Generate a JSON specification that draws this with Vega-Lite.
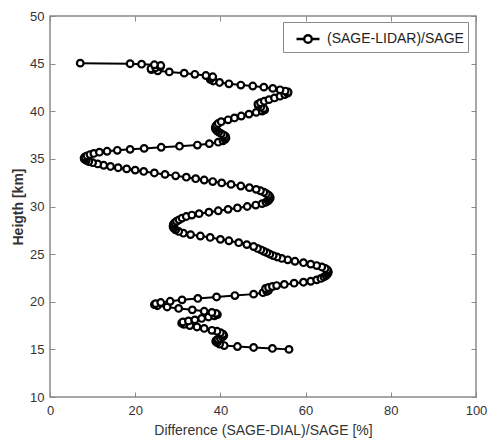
{
  "$schema": "https://vega.github.io/schema/vega-lite/v6.json",
  "width": 426,
  "height": 381,
  "autosize": "none",
  "padding": {"left": 50, "top": 16, "right": 16, "bottom": 42},
  "config": {
    "font": "Liberation Sans",
    "view": {"stroke": "#8a8a8a", "strokeWidth": 1.5},
    "axis": {
      "domain": false,
      "grid": false,
      "tickColor": "#8a8a8a",
      "tickWidth": 1,
      "tickSize": -5,
      "labelFont": "Liberation Sans",
      "labelFontSize": 13,
      "labelColor": "#333333",
      "titleFont": "Liberation Sans",
      "titleFontSize": 14,
      "titleFontWeight": "normal",
      "titleColor": "#333333"
    }
  },
  "data": {
    "values": [
      {"d": 56.1, "h": 15.0}, {"d": 52.2, "h": 15.1}, {"d": 47.8, "h": 15.2}, {"d": 44.0, "h": 15.3},
      {"d": 40.9, "h": 15.4}, {"d": 39.8, "h": 15.55}, {"d": 39.2, "h": 15.7}, {"d": 38.9, "h": 15.85},
      {"d": 39.0, "h": 15.95}, {"d": 39.4, "h": 16.05}, {"d": 40.0, "h": 16.15}, {"d": 40.5, "h": 16.3},
      {"d": 40.8, "h": 16.45}, {"d": 40.6, "h": 16.6}, {"d": 40.0, "h": 16.75}, {"d": 39.2, "h": 16.9},
      {"d": 38.0, "h": 17.0}, {"d": 36.2, "h": 17.2}, {"d": 34.5, "h": 17.35}, {"d": 32.8, "h": 17.5},
      {"d": 31.4, "h": 17.62}, {"d": 30.9, "h": 17.75}, {"d": 31.2, "h": 17.88}, {"d": 32.5, "h": 17.98},
      {"d": 34.0, "h": 18.1}, {"d": 35.6, "h": 18.25}, {"d": 37.2, "h": 18.4}, {"d": 38.6, "h": 18.52},
      {"d": 39.3, "h": 18.65}, {"d": 39.0, "h": 18.78}, {"d": 38.0, "h": 18.88}, {"d": 36.2, "h": 19.0},
      {"d": 33.4, "h": 19.15}, {"d": 30.2, "h": 19.3}, {"d": 27.5, "h": 19.45}, {"d": 25.2, "h": 19.58},
      {"d": 24.5, "h": 19.7}, {"d": 24.8, "h": 19.8}, {"d": 26.0, "h": 19.92}, {"d": 28.2, "h": 20.05},
      {"d": 31.0, "h": 20.2}, {"d": 34.7, "h": 20.35}, {"d": 39.1, "h": 20.5}, {"d": 43.4, "h": 20.65},
      {"d": 47.8, "h": 20.8}, {"d": 50.0, "h": 20.95}, {"d": 50.9, "h": 21.08}, {"d": 51.3, "h": 21.2},
      {"d": 50.8, "h": 21.3}, {"d": 50.6, "h": 21.4}, {"d": 51.3, "h": 21.5}, {"d": 52.2, "h": 21.6},
      {"d": 53.2, "h": 21.7}, {"d": 55.0, "h": 21.82}, {"d": 57.3, "h": 21.95}, {"d": 59.5, "h": 22.05},
      {"d": 61.2, "h": 22.15}, {"d": 62.6, "h": 22.3}, {"d": 63.6, "h": 22.45}, {"d": 64.3, "h": 22.6},
      {"d": 64.8, "h": 22.75}, {"d": 65.1, "h": 22.9}, {"d": 65.3, "h": 23.05}, {"d": 65.3, "h": 23.2},
      {"d": 65.1, "h": 23.35}, {"d": 64.6, "h": 23.5}, {"d": 63.8, "h": 23.65}, {"d": 62.6, "h": 23.8},
      {"d": 61.2, "h": 23.95}, {"d": 59.5, "h": 24.1}, {"d": 57.5, "h": 24.25}, {"d": 55.8, "h": 24.4},
      {"d": 54.4, "h": 24.55}, {"d": 53.3, "h": 24.7}, {"d": 52.4, "h": 24.85}, {"d": 51.6, "h": 25.0},
      {"d": 50.9, "h": 25.15}, {"d": 50.2, "h": 25.3}, {"d": 49.5, "h": 25.45}, {"d": 48.7, "h": 25.6},
      {"d": 47.8, "h": 25.8}, {"d": 46.2, "h": 26.0}, {"d": 44.3, "h": 26.2}, {"d": 42.0, "h": 26.4},
      {"d": 40.0, "h": 26.55}, {"d": 37.6, "h": 26.75}, {"d": 35.3, "h": 26.9}, {"d": 33.0, "h": 27.05},
      {"d": 31.3, "h": 27.2}, {"d": 30.2, "h": 27.38}, {"d": 29.5, "h": 27.55}, {"d": 29.1, "h": 27.7},
      {"d": 28.9, "h": 27.85}, {"d": 28.9, "h": 28.0}, {"d": 29.0, "h": 28.15}, {"d": 29.3, "h": 28.3},
      {"d": 29.7, "h": 28.45}, {"d": 30.3, "h": 28.6}, {"d": 31.0, "h": 28.78}, {"d": 32.0, "h": 28.95},
      {"d": 33.3, "h": 29.1}, {"d": 35.0, "h": 29.25}, {"d": 37.3, "h": 29.4}, {"d": 39.5, "h": 29.55},
      {"d": 41.8, "h": 29.7}, {"d": 44.0, "h": 29.85}, {"d": 46.3, "h": 30.0}, {"d": 48.3, "h": 30.15},
      {"d": 49.8, "h": 30.3}, {"d": 50.7, "h": 30.45}, {"d": 51.2, "h": 30.6}, {"d": 51.5, "h": 30.75},
      {"d": 51.7, "h": 30.9}, {"d": 51.6, "h": 31.05}, {"d": 51.3, "h": 31.2}, {"d": 50.8, "h": 31.35},
      {"d": 50.2, "h": 31.5}, {"d": 49.4, "h": 31.65}, {"d": 48.4, "h": 31.8}, {"d": 46.8, "h": 31.98},
      {"d": 44.8, "h": 32.15}, {"d": 42.5, "h": 32.32}, {"d": 40.3, "h": 32.48}, {"d": 38.2, "h": 32.62},
      {"d": 36.2, "h": 32.78}, {"d": 34.2, "h": 32.92}, {"d": 32.0, "h": 33.08}, {"d": 29.5, "h": 33.22},
      {"d": 27.0, "h": 33.37}, {"d": 24.5, "h": 33.52}, {"d": 22.0, "h": 33.68}, {"d": 20.0, "h": 33.82},
      {"d": 18.0, "h": 33.95}, {"d": 16.0, "h": 34.07}, {"d": 14.2, "h": 34.2}, {"d": 12.6, "h": 34.33},
      {"d": 11.2, "h": 34.47}, {"d": 10.0, "h": 34.6}, {"d": 9.1, "h": 34.72}, {"d": 8.5, "h": 34.85},
      {"d": 8.1, "h": 34.97}, {"d": 8.0, "h": 35.08}, {"d": 8.2, "h": 35.2}, {"d": 8.7, "h": 35.32},
      {"d": 9.4, "h": 35.45}, {"d": 10.3, "h": 35.57}, {"d": 11.6, "h": 35.7}, {"d": 13.4, "h": 35.8},
      {"d": 15.8, "h": 35.9}, {"d": 18.8, "h": 36.0}, {"d": 22.1, "h": 36.1}, {"d": 26.1, "h": 36.22},
      {"d": 30.4, "h": 36.33}, {"d": 34.6, "h": 36.45}, {"d": 37.4, "h": 36.6}, {"d": 39.5, "h": 36.75},
      {"d": 40.6, "h": 36.9}, {"d": 41.1, "h": 37.05}, {"d": 41.3, "h": 37.2}, {"d": 41.2, "h": 37.35},
      {"d": 40.8, "h": 37.5}, {"d": 40.2, "h": 37.65}, {"d": 39.6, "h": 37.8}, {"d": 39.2, "h": 37.95},
      {"d": 38.9, "h": 38.1}, {"d": 38.8, "h": 38.25}, {"d": 38.9, "h": 38.4}, {"d": 39.1, "h": 38.55},
      {"d": 39.5, "h": 38.72}, {"d": 40.2, "h": 38.9}, {"d": 41.8, "h": 39.1}, {"d": 43.3, "h": 39.3},
      {"d": 44.9, "h": 39.5}, {"d": 46.7, "h": 39.7}, {"d": 48.4, "h": 39.88}, {"d": 49.8, "h": 40.02},
      {"d": 50.4, "h": 40.15}, {"d": 50.2, "h": 40.3}, {"d": 49.5, "h": 40.45}, {"d": 48.9, "h": 40.6},
      {"d": 48.8, "h": 40.75}, {"d": 49.4, "h": 40.9}, {"d": 50.3, "h": 41.05}, {"d": 51.4, "h": 41.22},
      {"d": 52.7, "h": 41.4}, {"d": 54.0, "h": 41.58}, {"d": 55.1, "h": 41.75}, {"d": 55.8, "h": 41.9},
      {"d": 55.9, "h": 42.02}, {"d": 55.2, "h": 42.12}, {"d": 54.0, "h": 42.25}, {"d": 52.3, "h": 42.4},
      {"d": 50.2, "h": 42.53}, {"d": 47.6, "h": 42.65}, {"d": 44.8, "h": 42.75}, {"d": 42.0, "h": 42.88},
      {"d": 39.8, "h": 43.02}, {"d": 38.3, "h": 43.18}, {"d": 37.6, "h": 43.35}, {"d": 37.9, "h": 43.5},
      {"d": 38.2, "h": 43.62}, {"d": 36.6, "h": 43.75}, {"d": 34.0, "h": 43.88}, {"d": 31.5, "h": 44.0},
      {"d": 28.0, "h": 44.13}, {"d": 25.3, "h": 44.25}, {"d": 23.8, "h": 44.37}, {"d": 23.7, "h": 44.47},
      {"d": 24.8, "h": 44.57}, {"d": 25.9, "h": 44.68}, {"d": 26.0, "h": 44.8}, {"d": 24.5, "h": 44.88},
      {"d": 21.5, "h": 44.94}, {"d": 18.8, "h": 44.99}, {"d": 7.1, "h": 45.05}
    ]
  },
  "resolve": {"axis": {"x": "independent", "y": "independent"}},
  "layer": [
    {
      "mark": {"type": "line", "strokeWidth": 2, "color": "black"},
      "encoding": {
        "x": {"field": "d", "type": "quantitative", "scale": {"domain": [0, 100], "nice": false},
              "axis": {"values": [0, 20, 40, 60, 80, 100], "title": "Difference (SAGE-DIAL)/SAGE [%]", "labelPadding": 12, "titlePadding": 6, "labelFlush": false}},
        "y": {"field": "h", "type": "quantitative", "scale": {"domain": [10, 50], "nice": false},
              "axis": {"values": [10, 15, 20, 25, 30, 35, 40, 45, 50], "title": "Heigth [km]", "titleFontWeight": "bold", "labelPadding": 11, "titlePadding": 4, "labelFlush": false}},
        "order": {"field": "h", "type": "quantitative"},
        "color": {"datum": "(SAGE-LIDAR)/SAGE", "type": "nominal",
                  "scale": {"range": ["black"]},
                  "legend": {
                    "title": null, "orient": "none", "legendX": 233, "legendY": 6,
                    "direction": "vertical",
                    "strokeColor": "#8a8a8a", "fillColor": "white", "padding": 4,
                    "symbolType": "M-1,0H-0.33M0.33,0H1M-0.33,0A0.33,0.33 0 1,0 0.33,0A0.33,0.33 0 1,0 -0.33,0",
                    "symbolSize": 529, "symbolStrokeWidth": 2.4, "symbolFillColor": "white", "symbolStrokeColor": "black",
                    "symbolOffset": 8, "labelOffset": 6,
                    "labelFont": "Liberation Sans", "labelFontSize": 14, "labelColor": "#222222"
                  }}
      }
    },
    {
      "mark": {"type": "point", "shape": "circle", "size": 44, "filled": true, "fill": "white", "stroke": "black", "strokeWidth": 2.2, "opacity": 1},
      "encoding": {
        "x": {"field": "d", "type": "quantitative", "axis": null},
        "y": {"field": "h", "type": "quantitative", "axis": null}
      }
    },
    {
      "mark": {"type": "point", "opacity": 0},
      "encoding": {
        "x": {"field": "d", "type": "quantitative",
              "axis": {"orient": "top", "values": [0, 20, 40, 60, 80, 100], "labels": false, "title": null}},
        "y": {"field": "h", "type": "quantitative",
              "axis": {"orient": "right", "values": [10, 15, 20, 25, 30, 35, 40, 45, 50], "labels": false, "title": null}}
      }
    }
  ]
}
